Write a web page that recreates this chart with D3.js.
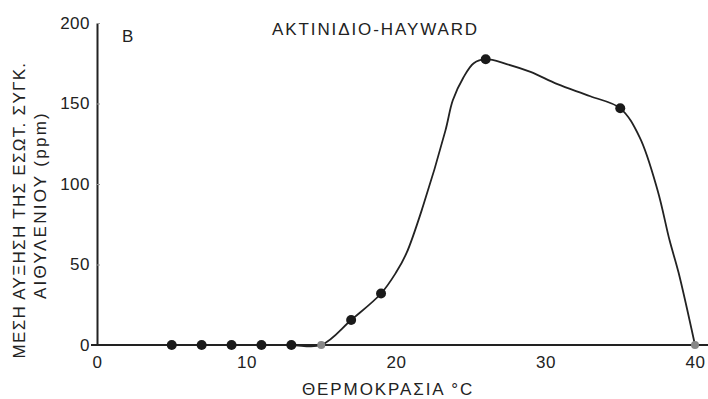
<!DOCTYPE html>
<html>
<head>
<meta charset="utf-8">
<script src="https://cdn.jsdelivr.net/npm/d3@7"></script>
<style>
  body { margin: 0; background: #fff; }
  text { font-family: "Liberation Sans", Arial, sans-serif; fill: #222; }
</style>
</head>
<body>
<div id="chart"></div>
<script>
// measured points (temperature, ethylene ppm)
const tempPoints = [5, 7, 9, 11, 13, 15, 17, 19, 26, 35, 40];
const ethylenePoints = [0, 0, 0, 0, 0, 0, 15.5, 32, 177.5, 147, 0];
// faded markers on the original
const fadedTemps = [15, 40];

// hand drawn curve
const curveTemps = [0, 5, 7, 9, 11, 13, 15, 17, 19, 20, 20.7, 21.8, 23.3, 23.8, 24.5, 25.2, 26, 27.4, 29, 30.8, 33, 35, 36.3, 37.5, 38.3, 38.9, 40];
const curveValues = [0, 0, 0, 0, 0, 0, 0, 15.5, 32, 45, 57, 86, 133, 152, 166, 175, 177.5, 174.5, 169.6, 162, 154.5, 147, 129, 96, 65, 45, 0];

const xTicks = [0, 10, 20, 30, 40];
const yTicks = [0, 50, 100, 150, 200];

const width = 708, height = 399;

let svg = d3.select('#chart')
  .append('svg')
  .attr('width', width)
  .attr('height', height);

let x = d3.scaleLinear().domain([0, 40]).range([97, 695]);
let y = d3.scaleLinear().domain([0, 200]).range([345, 23]);

// y axis
let yAxis = svg.append('g')
  .attr('transform', `translate(${x(0)},0)`)
  .call(d3.axisLeft(y).tickValues(yTicks).tickSizeInner(-3).tickSizeOuter(0).tickPadding(7));
yAxis.select('.domain').attr('stroke', '#222').attr('stroke-width', 2);
yAxis.selectAll('.tick line').attr('stroke', '#999').attr('stroke-width', 1);
yAxis.selectAll('.tick text')
  .style('font-size', '17px')
  .style('letter-spacing', '0.5px')
  .attr('fill', '#222');

// x axis labels, line drawn across the full width
let xAxis = svg.append('g')
  .attr('transform', `translate(0,${y(0)})`)
  .call(d3.axisBottom(x).tickValues(xTicks).tickSize(0).tickPadding(11));
xAxis.select('.domain').remove();
xAxis.selectAll('.tick text')
  .style('font-size', '17px')
  .style('letter-spacing', '0.5px')
  .attr('fill', '#222');

svg.append('line')
  .attr('x1', x(0) - 6).attr('x2', width)
  .attr('y1', y(0)).attr('y2', y(0))
  .attr('stroke', '#222')
  .attr('stroke-width', 2.2);

// curve
let line = d3.line()
  .x((d, i) => x(curveTemps[i]))
  .y((d, i) => y(curveValues[i]))
  .curve(d3.curveCatmullRom.alpha(0.5));

svg.append('path')
  .datum(curveTemps)
  .attr('d', line)
  .attr('fill', 'none')
  .attr('stroke', '#222')
  .attr('stroke-width', 1.8);

// markers
svg.selectAll('circle.pt')
  .data(tempPoints)
  .enter()
  .append('circle')
  .attr('class', 'pt')
  .attr('cx', d => x(d))
  .attr('cy', (d, i) => y(ethylenePoints[i]))
  .attr('r', d => fadedTemps.includes(d) ? 4 : 5)
  .attr('fill', d => fadedTemps.includes(d) ? '#888' : '#1a1a1a');

// texts
svg.append('text')
  .attr('x', 272).attr('y', 35)
  .style('font-size', '17px')
  .style('letter-spacing', '1.9px')
  .text('ΑΚΤΙΝΙΔΙΟ-HAYWARD');

svg.append('text')
  .attr('x', 122).attr('y', 42)
  .style('font-size', '17px')
  .text('B');

svg.append('text')
  .attr('x', 302).attr('y', 395)
  .style('font-size', '17px')
  .style('letter-spacing', '1.9px')
  .text('ΘΕΡΜΟΚΡΑΣΙΑ °C');

svg.append('text')
  .attr('transform', 'translate(25,210) rotate(-90)')
  .attr('text-anchor', 'middle')
  .style('font-size', '17px')
  .style('letter-spacing', '1.3px')
  .text('ΜΕΣΗ ΑΥΞΗΣΗ ΤΗΣ ΕΣΩΤ. ΣΥΓΚ.');

svg.append('text')
  .attr('transform', 'translate(46,205) rotate(-90)')
  .attr('text-anchor', 'middle')
  .style('font-size', '17px')
  .style('letter-spacing', '2.3px')
  .text('ΑΙΘΥΛΕΝΙΟΥ (ppm)');
</script>
</body>
</html>
